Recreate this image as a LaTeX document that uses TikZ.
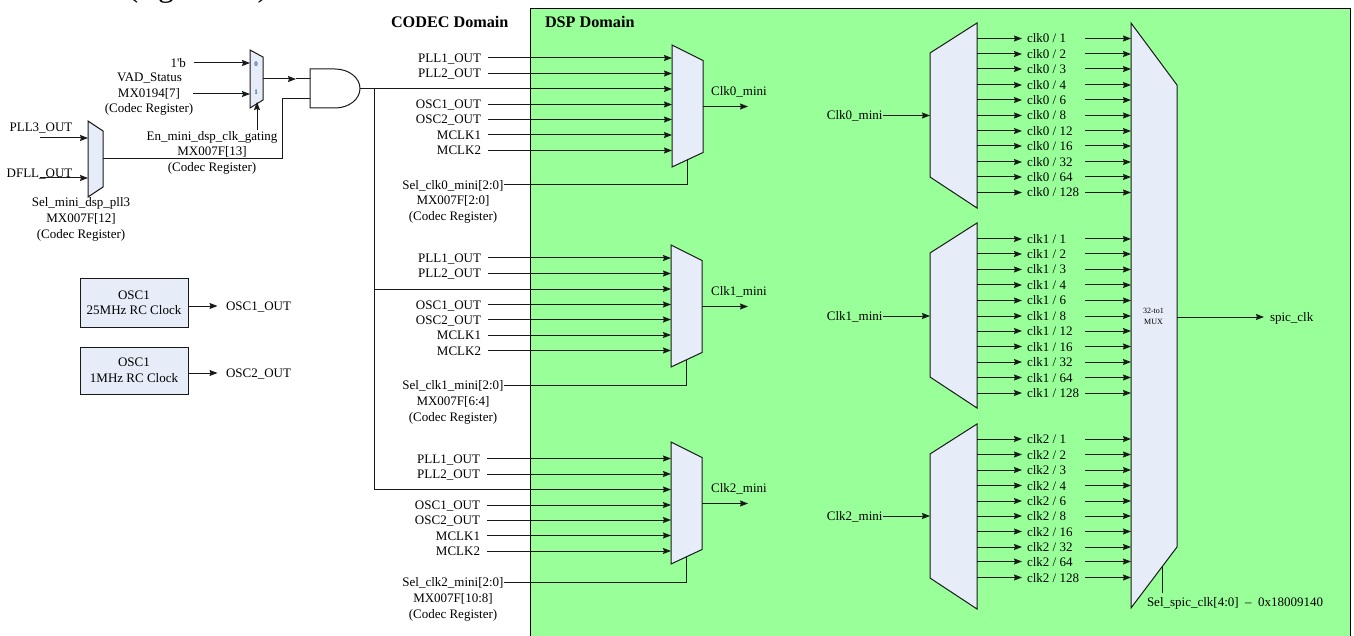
\documentclass[tikz,border=0pt]{standalone}
\usepackage{fontspec}
\setmainfont{Liberation Serif}
\usetikzlibrary{arrows.meta,calc}
\definecolor{dspgreen}{HTML}{99FF99}
\definecolor{muxfill}{HTML}{E6ECF8}
\definecolor{bitblue}{HTML}{3A5A9A}
\tikzset{
  wire/.style={line width=1pt,draw=black!90},
  arr/.style={wire,-{Stealth[length=8pt,width=6pt,inset=1pt]}},
  muxbox/.style={draw=black!90,line width=1pt,fill=muxfill,line join=miter},
  lbl/.style={inner sep=0pt,outer sep=0pt,font=\fontsize{13}{13}\selectfont,text height=11pt,text depth=2pt},
  head/.style={inner sep=0pt,outer sep=0pt,font=\fontsize{16.2}{17}\selectfont\bfseries,text height=12pt,text depth=1.4pt},
  bit/.style={inner sep=0pt,font=\fontsize{7}{7}\selectfont\bfseries,text=bitblue},
  oscbox/.style={draw=black!90,line width=1pt,fill=muxfill,minimum width=108pt,inner sep=0pt,align=center,font=\fontsize{13}{15.5}\selectfont}
}
% #1 id, #2 left x, #3 top y, #4 first input y, #5 input start x, #6 select text, #7 register text, #8 output name
\newcommand{\minimux}[8]{%
  \path[muxbox] (#2,#3) -- (#2+31,#3+15.5) -- (#2+31,#3+107.5) -- (#2,#3+122) -- cycle;
  \foreach \k/\dy/\t in {1/0/PLL1\_OUT,2/15.5/PLL2\_OUT,4/46.5/OSC1\_OUT,5/61.5/OSC2\_OUT,6/77/MCLK1,7/92.5/MCLK2}{
    \node[lbl,anchor=east] (#1l\k) at (#5-7,#4+\dy) {\t};
    \coordinate (#1a\k) at (#5,#4+\dy);
    \coordinate (#1b\k) at (#2,#4+\dy);
    \draw[arr] (#1a\k) -- (#1b\k);
  }
  \coordinate (#1in) at (#2,#4+31);
  \coordinate (#1out) at (#2+31,#3+61.5);
  \coordinate (#1end) at (748,#3+61.5);
  \draw[arr] (#1out) -- (#1end);
  \node[lbl] (#1name) at (739,#3+46) {#8};
  \node[lbl] (#1sel) at (453,#3+140) {#6};
  \node[lbl] (#1reg) at (453,#3+155.5) {#7};
  \node[lbl] (#1cod) at (453,#3+171.5) {(Codec Register)};
  \coordinate (#1bot) at (#2+15.5,#3+114.5);
  \draw[wire] (#1sel.east) -| (#1bot);
}
% #1 id, #2 top y, #3 input y, #4 input name, #5 clock prefix, #6 list y/divider
\newcommand{\divmux}[6]{%
  \path[muxbox] (930,#2+30) -- (977,#2) -- (977,#2+185) -- (930,#2+154) -- cycle;
  \coordinate (#1in) at (930,#3);
  \node[lbl,anchor=east] (#1name) at (882.5,#3) {#4};
  \draw[arr] (#1name.east) -- (#1in);
  \foreach \y/\n in {#6}{
    \coordinate (#1o\n) at (977,\y);
    \coordinate (#1p\n) at (1022,\y);
    \node[lbl,anchor=west] (#1t\n) at (1027,\y) {#5 / \n};
    \coordinate (#1q\n) at (1085,\y);
    \coordinate (#1r\n) at (1131,\y);
    \draw[arr] (#1o\n) -- (#1p\n);
    \draw[arr] (#1q\n) -- (#1r\n);
  }
}
\begin{document}
\begin{tikzpicture}[x=1pt,y=-1pt]
\useasboundingbox (0,0) rectangle (1354,636);
\begin{scope}
  \clip (0,0) rectangle (1354,636);
  \node[inner sep=0pt,anchor=base,font=\fontsize{32}{32}\selectfont] (frag1) at (133,-3) {(};
  \node[inner sep=0pt,anchor=base,font=\fontsize{32}{32}\selectfont] (frag2) at (166,-3) {g};
  \node[inner sep=0pt,anchor=base,font=\fontsize{32}{32}\selectfont] (frag3) at (263,-3) {)};
  \path[draw=black,fill=dspgreen,line width=1pt] (530,9) rectangle (1350,645);
\end{scope}

\node[head,anchor=west] (codec) at (391,22) {CODEC Domain};
\node[head,anchor=west] (dsp) at (545,22) {DSP Domain};

% left select mux
\path[muxbox] (88,121) -- (103,131) -- (103,187) -- (88,197) -- cycle;
\coordinate (smIn1) at (88,138);
\coordinate (smIn2) at (88,178);
\coordinate (smOut) at (103,159);
\coordinate (pllS) at (40,138);
\coordinate (dfllS) at (40,178);
\node[lbl] (pll3) at (41,127) {PLL3\_OUT};
\node[lbl] (dfll) at (39.5,173) {DFLL\_OUT};
\draw[arr] (pllS) -- (smIn1);
\draw[arr] (dfllS) -- (smIn2);
\node[lbl] (s1) at (81,202) {Sel\_mini\_dsp\_pll3};
\node[lbl] (s2) at (81,218) {MX007F[12]};
\node[lbl] (s3) at (81,234) {(Codec Register)};

% small mux
\path[muxbox] (250,50) -- (263,57) -- (263,100) -- (250,108) -- cycle;
\node[bit] (b0) at (256,64) {0};
\node[bit] (b1) at (256,92) {1};
\coordinate (vIn0) at (250,63);
\coordinate (vIn1) at (250,94);
\coordinate (vOut) at (263,79);
\coordinate (vSel) at (257,102);
\coordinate (vSelS) at (257,130);
\coordinate (vS0) at (194,63);
\coordinate (vS1) at (193,94);
\draw[arr] (vS0) -- (vIn0);
\draw[arr] (vS1) -- (vIn1);
\draw[arr] (vSelS) -- (vSel);
\node[lbl,anchor=east] (bv) at (186,63) {1\textquotesingle b};
\node[lbl] (vad) at (149.5,77) {VAD\_Status};
\node[lbl] (vreg) at (149,93) {MX0194[7]};
\node[lbl] (vcod) at (149,108) {(Codec Register)};
\node[lbl] (en) at (212,136) {En\_mini\_dsp\_clk\_gating};
\node[lbl] (enr) at (212,151) {MX007F[13]};
\node[lbl] (enc) at (212,167) {(Codec Register)};

% AND gate
\path[muxbox,fill=white] (310,69) -- (335,69) arc[start angle=-90,end angle=90,x radius=25,y radius=19.5] -- (310,108) -- cycle;
\coordinate (andA) at (310,79);
\coordinate (andB) at (310,98.5);
\coordinate (andOut) at (360,89);
\coordinate (andMid) at (296,79);
\draw[arr] (vOut) -- (andMid);
\draw[wire] (andMid) -- (andA);
\draw[wire] (smOut) -- (282,159) -- (282,98.5) -- (andB);

% oscillators
\node[oscbox,minimum height=48pt] (osca) at (134,303) {\raisebox{-1pt}{OSC1}\\\raisebox{-1pt}{25MHz RC Clock}};
\node[oscbox,minimum height=47pt] (oscb) at (134,370.5) {\raisebox{-1pt}{OSC1}\\\raisebox{-1pt}{1MHz RC Clock}};
\node[lbl,anchor=west] (oscao) at (226,306) {OSC1\_OUT};
\node[lbl,anchor=west] (oscbo) at (226,373) {OSC2\_OUT};
\draw[arr] (osca.east |- oscao) -- ++(29,0);
\draw[arr] (oscb.east |- oscbo) -- ++(29,0);

% three clock-source muxes
\minimux{ma}{672}{45}{58}{488}{Sel\_clk0\_mini[2:0]}{MX007F[2:0]}{Clk0\_mini}
\minimux{mb}{671}{245}{258}{488}{Sel\_clk1\_mini[2:0]}{MX007F[6:4]}{Clk1\_mini}
\minimux{mc}{671}{442}{458.5}{487}{Sel\_clk2\_mini[2:0]}{MX007F[10:8]}{Clk2\_mini}
\coordinate (branch) at (374,89);
\coordinate (brb) at (374,289);
\coordinate (brc) at (374,489.5);
\draw[arr] (andOut) -- (main);
\draw[wire] (branch) -- (brc);
\draw[arr] (brb) -- (mbin);
\draw[arr] (brc) -- (mcin);

% divider demuxes
\divmux{da}{23}{115.5}{Clk0\_mini}{clk0}{38.5/1,54/2,69/3,85/4,100/6,115.5/8,131/12,146/16,162/32,177/64,192.5/128}
\divmux{db}{223}{316}{Clk1\_mini}{clk1}{239/1,254/2,269.5/3,285/4,300.5/6,316/8,331/12,346.5/16,362/32,377.5/64,393/128}
\divmux{dc}{424}{516}{Clk2\_mini}{clk2}{439/1,454.5/2,470/3,485.5/4,501/6,516/8,531.5/16,547/32,561.5/64,577.5/128}

% 32-to-1 mux
\path[muxbox] (1131,23) -- (1177,85) -- (1177,547) -- (1131,608) -- cycle;
\node[inner sep=0pt,align=center,font=\fontsize{8}{11}\selectfont] (bigm) at (1153.5,316) {32-to1\\MUX};
\coordinate (bigOut) at (1177,317);
\coordinate (spicEnd) at (1264,317);
\node[lbl,anchor=west] (spic) at (1270,317) {spic\_clk};
\draw[arr] (bigOut) -- (spicEnd);
\coordinate (bigSel) at (1162,567);
\node[lbl,anchor=west] (selspic) at (1147,602) {Sel\_spic\_clk[4:0]\ \ –\ \ 0x18009140};
\coordinate (selTop) at (1162,593);
\draw[wire] (selTop) -- (bigSel);
\end{tikzpicture}
\end{document}
